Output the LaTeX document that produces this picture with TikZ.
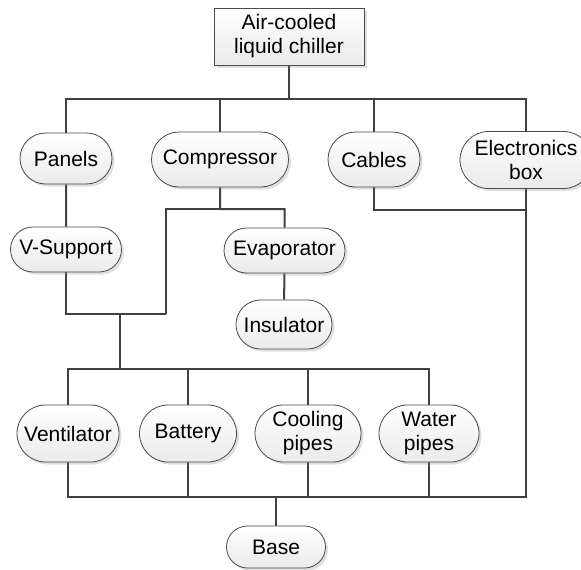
\documentclass[tikz,border=0pt]{standalone}
\usepackage{fontspec}
\setmainfont{Liberation Sans}
\usetikzlibrary{shapes.misc,shadows}
\pgfdeclarelayer{edgelayer}
\pgfdeclarelayer{nodelayer}
\pgfsetlayers{edgelayer,nodelayer,main}
\definecolor{linegray}{HTML}{404040}
\definecolor{bordergray}{HTML}{4A4A4A}
\tikzstyle{edge}=[draw=linegray, line width=2pt]
\tikzstyle{part}=[rounded rectangle, draw=bordergray, line width=0.8pt, top color=white, bottom color=gray!16, drop shadow={shadow xshift=2.5pt, shadow yshift=-2.5pt, fill=gray, opacity=0.25}, align=center, inner sep=1pt, font=\fontsize{21}{24}\selectfont]
\tikzstyle{unit}=[part, rectangle]

\begin{document}
\begin{tikzpicture}[x=1pt, y=-1pt]
	\useasboundingbox (0, 0) rectangle (581, 570);
	\begin{pgfonlayer}{nodelayer}
		\node [style=unit, minimum width=150pt, minimum height=57pt] (chiller) at (289, 36.5) {Air-cooled\\liquid chiller};
		\node [style=part, minimum width=94pt, minimum height=51pt] (panels) at (66, 158.5) {Panels};
		\node [style=part, minimum width=139pt, minimum height=55pt] (compressor) at (220, 159.5) {Compressor};
		\node [style=part, minimum width=94pt, minimum height=55pt] (cables) at (374, 159.5) {Cables};
		\node [style=part, minimum width=134pt, minimum height=57pt] (ebox) at (526, 160) {Electronics\\box};
		\node [style=part, minimum width=113pt, minimum height=45pt] (vsupport) at (66, 249.5) {V-Support};
		\node [style=part, minimum width=123pt, minimum height=45pt] (evaporator) at (284.5, 250.5) {Evaporator};
		\node [style=part, minimum width=98pt, minimum height=49pt] (insulator) at (284, 324.5) {Insulator};
		\node [style=part, minimum width=104pt, minimum height=57pt] (ventilator) at (68, 433.5) {Ventilator};
		\node [style=part, minimum width=99pt, minimum height=57pt] (battery) at (188, 433.5) {Battery};
		\node [style=part, minimum width=108pt, minimum height=57pt] (cooling) at (308, 433.5) {Cooling\\pipes};
		\node [style=part, minimum width=102pt, minimum height=57pt] (water) at (429, 433.5) {Water\\pipes};
		\node [style=part, minimum width=101pt, minimum height=42pt] (base) at (276, 547) {Base};
	\end{pgfonlayer}
	\begin{pgfonlayer}{edgelayer}
		\coordinate (top) at (289, 99);
		\coordinate (comp) at (220, 209);
		\coordinate (compl) at (166, 209);
		\coordinate (vsup) at (166, 314);
		\coordinate (mid) at (120, 314);
		\coordinate (midbus) at (120, 369);
		\coordinate (elec) at (526, 210);
		\coordinate (bot) at (276, 497);
		\draw [style=edge] (chiller) -- (top) -| (panels);
		\draw [style=edge] (top) -| (compressor);
		\draw [style=edge] (top) -| (cables);
		\draw [style=edge] (top) -| (ebox);
		\draw [style=edge] (panels) to (vsupport);
		\draw [style=edge] (compressor) -- (comp) -| (evaporator);
		\draw [style=edge] (comp) -- (compl) -- (vsup);
		\draw [style=edge] (vsupport) |- (vsup);
		\draw [style=edge] (evaporator) to (insulator);
		\draw [style=edge] (mid) -- (midbus) -| (ventilator);
		\draw [style=edge] (midbus) -| (battery);
		\draw [style=edge] (midbus) -| (cooling);
		\draw [style=edge] (midbus) -| (water);
		\draw [style=edge] (cables) |- (elec);
		\draw [style=edge] (ebox) -- (elec) |- (bot);
		\draw [style=edge] (base) -- (bot);
		\draw [style=edge] (ventilator) |- (bot);
		\draw [style=edge] (battery) |- (bot);
		\draw [style=edge] (cooling) |- (bot);
		\draw [style=edge] (water) |- (bot);
	\end{pgfonlayer}
\end{tikzpicture}
\end{document}
